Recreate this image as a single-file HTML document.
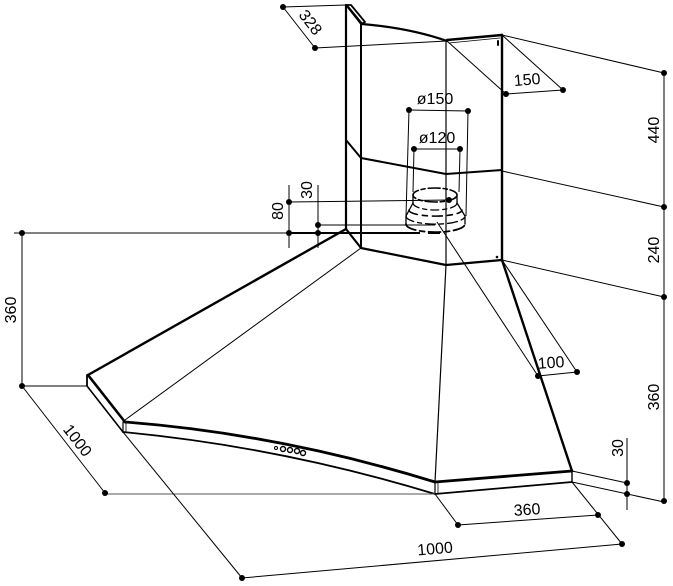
<!DOCTYPE html>
<html><head><meta charset="utf-8"><style>
html,body{margin:0;padding:0;background:#fff;}
svg{display:block;}
text{font-family:"Liberation Sans","DejaVu Sans",sans-serif;font-size:16px;fill:#000;}
</style></head><body>
<svg width="673" height="586" viewBox="0 0 673 586" xmlns="http://www.w3.org/2000/svg">
<g fill="none" stroke="#000" stroke-linecap="round" stroke-linejoin="round">
<!-- chimney -->
<line x1="346" y1="5" x2="346" y2="229" stroke-width="2.2"/>
<line x1="361" y1="23" x2="361" y2="248" stroke-width="2"/>
<path d="M346,5 L351,5 L365,22 L361,24 Z" stroke-width="1.8"/>
<line x1="348" y1="6" x2="362" y2="23" stroke-width="1"/>
<path d="M362,24 Q410,28 447,41" stroke-width="2.2"/>
<line x1="447" y1="40" x2="502" y2="35" stroke-width="2.4"/>
<line x1="449" y1="43" x2="500" y2="38" stroke-width="0.8"/>
<line x1="446" y1="41" x2="446" y2="265" stroke-width="1.2"/>
<line x1="502" y1="35" x2="502" y2="260" stroke-width="2.4"/>
<line x1="498" y1="41" x2="498" y2="45" stroke-width="2"/>
<line x1="346" y1="140" x2="361" y2="158" stroke-width="2"/>
<polyline points="361,158 446,174 502,170" stroke-width="2"/>
<!-- hood top -->
<polyline points="346,229 361,248 446,265 502,260" stroke-width="2.2"/>
<circle cx="497" cy="257" r="1.3" fill="#000" stroke="none"/>
<!-- hood left slope -->
<line x1="346" y1="229" x2="88" y2="375" stroke-width="2.4"/>
<line x1="361" y1="248" x2="125" y2="420" stroke-width="1"/>
<line x1="87" y1="375" x2="87" y2="386" stroke-width="1.8"/>
<line x1="88" y1="375" x2="125" y2="422" stroke-width="2.6"/>
<line x1="87" y1="386" x2="123" y2="432" stroke-width="1.6"/>
<line x1="123" y1="422" x2="123" y2="432" stroke-width="1.2"/>
<line x1="126" y1="422" x2="126" y2="432" stroke-width="0.8"/>
<!-- front curved band -->
<path d="M125,422 Q280,434 435,482" stroke-width="2.8"/>
<path d="M123,432 Q281,447 435,494" stroke-width="1.8"/>
<line x1="435" y1="482" x2="435" y2="494" stroke-width="1.2"/>
<line x1="438" y1="482" x2="438" y2="494" stroke-width="0.8"/>
<!-- hood right -->
<line x1="446" y1="265" x2="435" y2="482" stroke-width="1.2"/>
<line x1="502" y1="260" x2="572" y2="471" stroke-width="2.4"/>
<line x1="435" y1="482" x2="572" y2="471" stroke-width="2.8"/>
<line x1="435" y1="494" x2="572" y2="482" stroke-width="1.8"/>
<line x1="572" y1="471" x2="572" y2="482" stroke-width="1.4"/>
<!-- collar -->
<ellipse cx="435" cy="195" rx="22" ry="7" stroke-width="1.6" stroke-dasharray="12,3,4,3"/>
<line x1="413" y1="195" x2="413" y2="203" stroke-width="1.3"/>
<line x1="457" y1="195" x2="457" y2="203" stroke-width="1.3"/>
<path d="M413,203 A22,7 0 0 0 457,203" stroke-width="1.3" stroke-dasharray="8,4,4,4"/>
<line x1="413" y1="203" x2="406" y2="216" stroke-width="1.3"/>
<line x1="457" y1="203" x2="465" y2="216" stroke-width="1.3"/>
<path d="M409,210 A26,6 0 0 0 462,210" stroke-width="1.6" stroke-dasharray="10,5,5,5"/>
<line x1="406" y1="216" x2="406" y2="224" stroke-width="1.3"/>
<line x1="465" y1="216" x2="465" y2="224" stroke-width="1.3"/>
<path d="M406,216 A29,8 0 0 0 465,216" stroke-width="1.3" stroke-dasharray="10,4,4,4"/>
<path d="M406,224 A29,8 0 0 0 465,224" stroke-width="1.8" stroke-dasharray="12,4,5,4"/>
<!-- buttons -->
<circle cx="276" cy="448" r="1.5" stroke-width="1"/>
<circle cx="283" cy="449" r="2.5" stroke-width="1.4"/>
<circle cx="290" cy="450" r="2.5" stroke-width="1.4"/>
<circle cx="297" cy="451" r="2.5" stroke-width="1.4"/>
<circle cx="303" cy="453" r="2.5" stroke-width="1.4"/>
</g>

<!-- dimension lines -->
<g fill="none" stroke="#000" stroke-width="1">
<line x1="283" y1="7" x2="346" y2="5"/>
<line x1="315" y1="48" x2="447" y2="41"/>
<line x1="283" y1="7" x2="315" y2="48"/>
<line x1="447" y1="41" x2="506" y2="94"/>
<line x1="502" y1="35" x2="563" y2="90"/>
<line x1="506" y1="94" x2="563" y2="90"/>
<line x1="502" y1="35" x2="664" y2="73"/>
<line x1="502" y1="171" x2="664" y2="207"/>
<line x1="502" y1="260" x2="664" y2="297"/>
<line x1="664" y1="73" x2="664" y2="500"/>
<line x1="409" y1="110" x2="468" y2="111"/>
<line x1="409" y1="110" x2="406" y2="216"/>
<line x1="468" y1="111" x2="466" y2="216"/>
<line x1="414" y1="149" x2="460" y2="149"/>
<line x1="414" y1="149" x2="413" y2="192"/>
<line x1="460" y1="149" x2="459" y2="192"/>
<line x1="289" y1="185" x2="289" y2="248"/>
<line x1="318" y1="185" x2="318" y2="248"/>
<line x1="289" y1="202" x2="449" y2="200"/>
<line x1="318" y1="225" x2="435" y2="225"/>
<line x1="14" y1="233" x2="290" y2="233"/>
<line x1="290" y1="233" x2="420" y2="233" stroke-width="2"/>
<line x1="428" y1="233" x2="440" y2="233" stroke-width="2"/>
<line x1="22" y1="233" x2="22" y2="386"/>
<line x1="22" y1="386" x2="87" y2="386"/>
<line x1="22" y1="386" x2="105" y2="493"/>
<line x1="105" y1="494" x2="435" y2="494" stroke="#555"/>
<line x1="437" y1="222" x2="538" y2="376"/>
<line x1="502" y1="260" x2="577" y2="372"/>
<line x1="538" y1="376" x2="577" y2="372"/>
<line x1="572" y1="471" x2="627" y2="483"/>
<line x1="572" y1="482" x2="664" y2="502"/>
<line x1="627" y1="438" x2="627" y2="510"/>
<line x1="435" y1="494" x2="458" y2="525"/>
<line x1="572" y1="482" x2="622" y2="544"/>
<line x1="458" y1="525" x2="598" y2="515"/>
<line x1="123" y1="432" x2="242" y2="578"/>
<line x1="242" y1="578" x2="622" y2="544"/>
</g>

<!-- dots -->
<g fill="#000">
<circle cx="283" cy="7" r="3"/><circle cx="315" cy="48" r="3"/>
<circle cx="506" cy="94" r="3"/><circle cx="563" cy="90" r="3"/>
<circle cx="664" cy="73" r="3"/><circle cx="664" cy="207" r="3"/><circle cx="664" cy="297" r="3"/><circle cx="664" cy="501" r="3"/>
<circle cx="409" cy="110" r="3"/><circle cx="468" cy="111" r="3"/>
<circle cx="414" cy="149" r="3"/><circle cx="460" cy="149" r="3"/>
<circle cx="289" cy="202" r="3"/><circle cx="289" cy="233" r="3"/>
<circle cx="318" cy="225" r="3"/><circle cx="318" cy="233" r="3"/>
<circle cx="449" cy="200" r="3"/>
<circle cx="22" cy="233" r="3"/><circle cx="22" cy="386" r="3"/>
<circle cx="105" cy="493" r="3"/>
<circle cx="538" cy="376" r="3"/><circle cx="577" cy="372" r="3"/>
<circle cx="627" cy="483" r="3"/><circle cx="627" cy="494" r="3"/>
<circle cx="458" cy="525" r="3"/><circle cx="598" cy="515" r="3"/>
<circle cx="242" cy="578" r="3"/><circle cx="622" cy="544" r="3"/>
</g>

<!-- labels -->
<text x="311" y="28" text-anchor="middle" transform="rotate(52 311 22)">328</text>
<text x="527" y="85" text-anchor="middle" transform="rotate(-5 527 79)">150</text>
<text x="435" y="104" text-anchor="middle">ø150</text>
<text x="437" y="143" text-anchor="middle">ø120</text>
<text x="653" y="136" text-anchor="middle" transform="rotate(-90 653 130)">440</text>
<text x="653" y="256" text-anchor="middle" transform="rotate(-90 653 250)">240</text>
<text x="653" y="403" text-anchor="middle" transform="rotate(-90 653 397)">360</text>
<text x="617" y="454" text-anchor="middle" transform="rotate(-90 617 448)">30</text>
<text x="306" y="196" text-anchor="middle" transform="rotate(-90 306 190)">30</text>
<text x="277" y="217" text-anchor="middle" transform="rotate(-90 277 211)">80</text>
<text x="10" y="316" text-anchor="middle" transform="rotate(-90 10 310)">360</text>
<text x="78" y="446" text-anchor="middle" transform="rotate(52 78 440)">1000</text>
<text x="551" y="368" text-anchor="middle" transform="rotate(-4 551 362)">100</text>
<text x="527" y="515" text-anchor="middle" transform="rotate(-4 527 509)">360</text>
<text x="435" y="554" text-anchor="middle" transform="rotate(-5 435 548)">1000</text>
</svg>
</body></html>
